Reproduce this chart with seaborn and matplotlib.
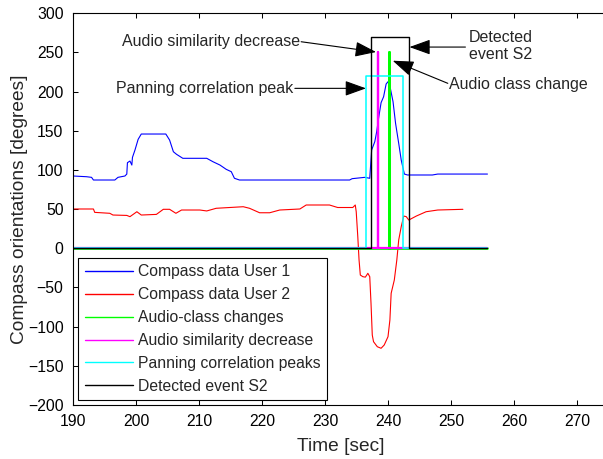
import matplotlib
matplotlib.use("Agg")
import matplotlib.pyplot as plt
import seaborn as sns

# Compass orientation of user 1: time [s], heading [deg]
user1_time = [190.0, 192.1, 192.9, 193.2, 196.6, 197.1, 198.2, 198.5, 198.6, 199.0,
              199.3, 199.4, 199.8, 200.3, 200.8, 204.7, 205.3, 205.9, 206.4, 207.4,
              211.2, 212.2, 213.3, 214.3, 215.1, 215.6, 216.4, 233.9, 234.3, 236.3,
              237.1, 237.4, 237.9, 238.2, 238.5, 238.9, 239.3, 239.7, 240.0, 240.3,
              240.8, 241.2, 241.7, 242.1, 242.6, 243.1, 247.05, 247.9, 255.8]
user1_deg = [92.3, 91.4, 90.6, 87.2, 87.2, 90.6, 92.3, 94.8, 109.3, 111.4,
             106.3, 116.1, 125.5, 139.1, 145.9, 145.9, 138.2, 123.3, 120.0, 114.9,
             114.9, 110.5, 106.3, 100.8, 97.8, 89.4, 87.2, 87.2, 88.9, 90.6,
             89.4, 125.5, 136.1, 148.8, 165.9, 185.9, 193.5, 209.7, 212.7, 207.2,
             187.1, 159.6, 134.0, 112.7, 94.8, 93.6, 93.6, 94.8, 94.8]

# Compass orientation of user 2: time [s], heading [deg]
user2_time = [190.0, 193.2, 193.4, 195.8, 196.3, 198.5, 199.0, 200.1, 200.8, 203.2,
              204.3, 205.3, 206.3, 207.2, 210.1, 211.2, 212.7, 217.0, 218.0, 219.6,
              221.2, 222.8, 226.0, 227.0, 230.7, 232.0, 234.4, 234.8, 234.95, 235.2,
              235.4, 235.6, 236.0, 236.4, 236.8, 237.1, 237.3, 237.5, 237.7, 238.3,
              238.9, 239.4, 240.0, 240.3, 240.5, 241.0, 241.4, 241.7, 242.1, 242.5,
              242.9, 243.3, 244.5, 246.05, 247.9, 251.9]
user2_deg = [50.2, 50.2, 45.9, 44.7, 42.5, 42.0, 40.4, 46.7, 42.5, 43.3,
             49.8, 49.8, 44.7, 48.9, 48.9, 47.7, 51.1, 53.1, 51.1, 45.4,
             45.4, 48.9, 50.2, 55.3, 55.3, 52.1, 52.1, 55.3, 46.7, 14.8,
             -14.9, -34.1, -36.2, -36.8, -31.9, -36.2, -70.2, -110.7, -119.2, -125.6,
             -127.6, -123.4, -112.8, -91.5, -57.4, -40.5, -14.9, 10.6, 27.6, 41.2,
             40.4, 36.1, 41.2, 46.7, 48.9, 49.8]

# Event indicator signals (zero outside the marked instants / intervals)
audio_class_time = [190.0, 240.23, 240.23, 240.23, 255.8]
audio_class_val = [0, 0, 250, 0, 0]

audio_sim_time = [190.0, 238.37, 238.37, 238.37, 255.8]
audio_sim_val = [0, 0, 250, 0, 0]

panning_time = [190.0, 236.53, 236.53, 242.34, 242.34, 255.8]
panning_val = [0, 0, 220, 220, 0, 0]

event_time = [190.0, 237.33, 237.33, 243.29, 243.29, 255.8]
event_val = [0, 0, 270, 270, 0, 0]

series_labels = ["Compass data User 1", "Compass data User 2", "Audio-class changes",
                 "Audio similarity decrease", "Panning correlation peaks",
                 "Detected event S2"]

x_ticks = [190, 200, 210, 220, 230, 240, 250, 260, 270]
y_ticks = [-200, -150, -100, -50, 0, 50, 100, 150, 200, 250, 300]

sns.set_style("ticks", rc={
    "xtick.direction": "in", "ytick.direction": "in",
    "xtick.top": True, "ytick.right": True,
    "axes.edgecolor": "black", "axes.linewidth": 0.8,
    "xtick.color": "black", "ytick.color": "black",
})
plt.rcParams["font.family"] = ["Liberation Sans", "DejaVu Sans"]

fig = plt.figure(figsize=(6.03, 4.59), dpi=100)
ax = fig.add_axes([73.3 / 603, 54 / 459, 535 / 603, 391.7 / 459])

series = [
    (user1_time, user1_deg, (0, 0, 1), 0.8),
    (user2_time, user2_deg, (1, 0, 0), 0.8),
    (audio_class_time, audio_class_val, (0, 1, 0), 2.0),
    (audio_sim_time, audio_sim_val, (1, 0, 1), 1.6),
    (panning_time, panning_val, (0, 1, 1), 1.1),
    (event_time, event_val, (0, 0, 0), 1.0),
]
for (t, v, c, lw), lab in zip(series, series_labels):
    sns.lineplot(x=t, y=v, ax=ax, color=c, linewidth=lw, label=lab,
                 sort=False, estimator=None)

ax.set_xlim(190, 275)
ax.set_ylim(-200, 300)
ax.set_xticks(x_ticks)
ax.set_yticks(y_ticks)
ax.tick_params(axis="both", labelsize=11.3, length=3.6, width=0.75)
ax.tick_params(axis="x", pad=6.5)
ax.tick_params(axis="y", pad=7)

ax.set_xlabel("Time [sec]", fontsize=13.8)
ax.set_ylabel("Compass orientations [degrees]", fontsize=13.8)
ax.xaxis.set_label_coords(0.5, -0.083)
ax.yaxis.set_label_coords(-0.085, 0.5)

leg = ax.legend(loc="lower left", fontsize=11.3, frameon=True, fancybox=False,
                edgecolor="black", framealpha=1, borderaxespad=0.32,
                handlelength=3.1, handletextpad=0.32, labelspacing=0.5,
                borderpad=0.4)
leg.get_frame().set_linewidth(0.8)
for h in leg.get_lines():
    h.set_linewidth(1.0)

arrow = dict(arrowstyle="-|>,head_length=1.0,head_width=0.36", color="black",
             lw=0.8, shrinkA=0, shrinkB=0, mutation_scale=13)
fs = 11.5

ax.text(226.0, 263.7, "Audio similarity decrease", fontsize=fs, ha="right", va="center")
ax.annotate("", xy=(238.1, 250.6), xytext=(226.2, 263.7), arrowprops=arrow)

ax.text(225.0, 204.2, "Panning correlation peak", fontsize=fs, ha="right", va="center")
ax.annotate("", xy=(236.5, 204.2), xytext=(225.2, 204.2), arrowprops=arrow)

ax.text(257.9, 258.0, "Detected\nevent S2", fontsize=fs, ha="center", va="center",
        multialignment="center")
ax.annotate("", xy=(243.4, 256.9), xytext=(252.3, 256.9), arrowprops=arrow)

ax.text(249.7, 208.5, "Audio class change", fontsize=fs, ha="left", va="center")
ax.annotate("", xy=(240.75, 239.5), xytext=(249.5, 210.6), arrowprops=arrow)

fig.savefig("out.png", dpi=100)
